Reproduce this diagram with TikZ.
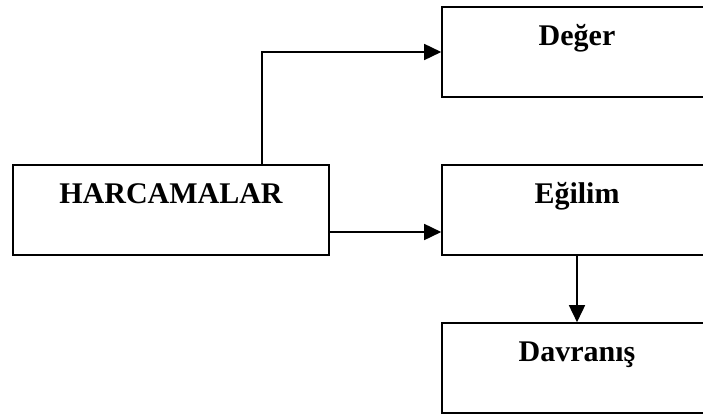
\documentclass[tikz,border=0pt]{standalone}
\usepackage{fontspec}
\setmainfont{Liberation Serif}
\usetikzlibrary{arrows.meta,calc}
\begin{document}
\begin{tikzpicture}[x=1pt,y=-1pt,
  box/.style={draw,line width=1.6pt,inner sep=0pt,text height=38pt,text depth=52pt,
    font=\fontsize{30}{36}\selectfont\bfseries},
  arr/.style={line width=1.6pt,-{Triangle[length=17pt,width=16pt]}}]
  % page frame
  \clip (0,0) rectangle (703,415);
  \fill[white] (0,0) rectangle (703,415);
  % boxes
  \node[box,minimum width=316pt] (harc) at (171,210) {HARCAMALAR};
  \node[box,minimum width=270pt] (deger) at (577,52) {Değer};
  \node[box,minimum width=270pt] (egilim) at (577,210) {Eğilim};
  \node[box,minimum width=270pt] (davranis) at (577,368) {Davranış};
  % connectors
  \coordinate (up) at ($(harc.north)+(91,0)$);
  \coordinate (out) at ($(harc.east)+(0,22)$);
  \draw[arr] (up) |- (deger.west);
  \draw[arr] (out) -- (egilim.west |- out);
  \draw[arr] (egilim.south) -- (davranis.north);
\end{tikzpicture}
\end{document}
